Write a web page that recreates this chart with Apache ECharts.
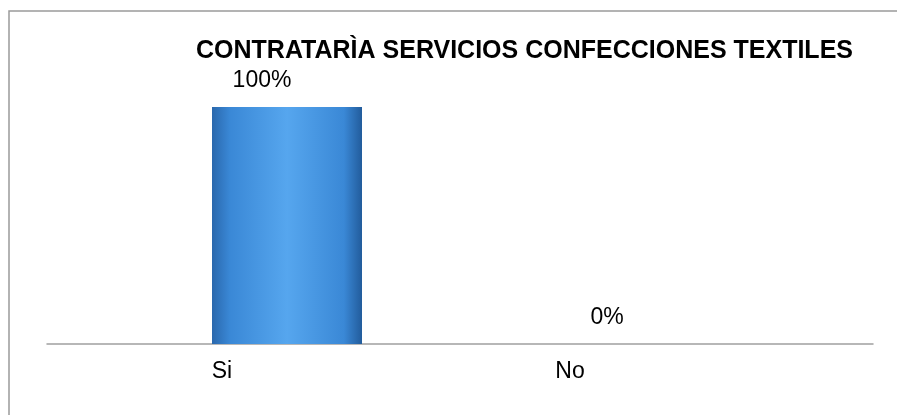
<!DOCTYPE html>
<html>
<head>
<meta charset="utf-8">
<script src="https://cdn.jsdelivr.net/npm/echarts@6/dist/echarts.min.js"></script>
<style>
html,body{margin:0;padding:0;background:#fff;}
#chart{width:897px;height:415px;}
</style>
</head>
<body>
<div id="chart"></div>
<script>
const chartTitle = 'CONTRATARÌA SERVICIOS CONFECCIONES TEXTILES';
const categories = ['Si', 'No'];
const values = [100, 0];

const chart = echarts.init(document.getElementById('chart'), null, {renderer: 'canvas'});
const font = '"Liberation Sans", Arial, sans-serif';
const catShift = [130, 74];
const valueLabelShift = [-25, 0];

const option = {
  backgroundColor: '#ffffff',
  animation: false,
  title: {
    text: chartTitle,
    left: 196,
    top: 39,
    padding: 0,
    textStyle: {fontFamily: font, fontSize: 25, fontWeight: 'bold', color: '#000'}
  },
  graphic: [{
    type: 'rect',
    shape: {x: 9, y: 11, width: 1000, height: 500},
    style: {fill: 'none', stroke: '#9a9a9a', lineWidth: 1.5},
    silent: true
  }],
  grid: [
    {left: 127, right: 130, top: 107, bottom: 71},
    {left: 47, right: 24, top: 107, bottom: 71}
  ],
  xAxis: [
    {
      type: 'category', gridIndex: 0, data: categories,
      axisLine: {show: false}, axisTick: {show: false},
      axisLabel: {
        margin: 16,
        formatter: (v, i) => '{c' + i + '|' + v + '}',
        rich: {
          c0: {fontFamily: font, fontSize: 23, color: '#000', padding: [0, catShift[0], 0, 0]},
          c1: {fontFamily: font, fontSize: 23, color: '#000', padding: [0, catShift[1], 0, 0]}
        }
      }
    },
    {
      type: 'category', gridIndex: 1, data: [''],
      axisLine: {show: true, lineStyle: {color: '#a0a0a0', width: 1.5}},
      axisTick: {show: false}, axisLabel: {show: false}
    }
  ],
  yAxis: [
    {type: 'value', gridIndex: 0, min: 0, max: 100, show: false},
    {type: 'value', gridIndex: 1, min: 0, max: 100, show: false}
  ],
  series: [{
    type: 'bar',
    xAxisIndex: 0, yAxisIndex: 0,
    barWidth: 150,
    data: values.map((v, i) => ({
      value: v,
      label: {offset: [valueLabelShift[i], 0]}
    })),
    itemStyle: {
      color: new echarts.graphic.LinearGradient(0, 0, 1, 0, [
        {offset: 0, color: '#2a68ad'},
        {offset: 0.12, color: '#3a88d6'},
        {offset: 0.5, color: '#56a6ee'},
        {offset: 0.88, color: '#3a88d6'},
        {offset: 1, color: '#225c9c'}
      ])
    },
    label: {
      show: true, position: 'top', distance: 15,
      formatter: '{c}%',
      fontFamily: font, fontSize: 23, color: '#000'
    }
  }]
};
chart.setOption(option);
</script>
</body>
</html>
